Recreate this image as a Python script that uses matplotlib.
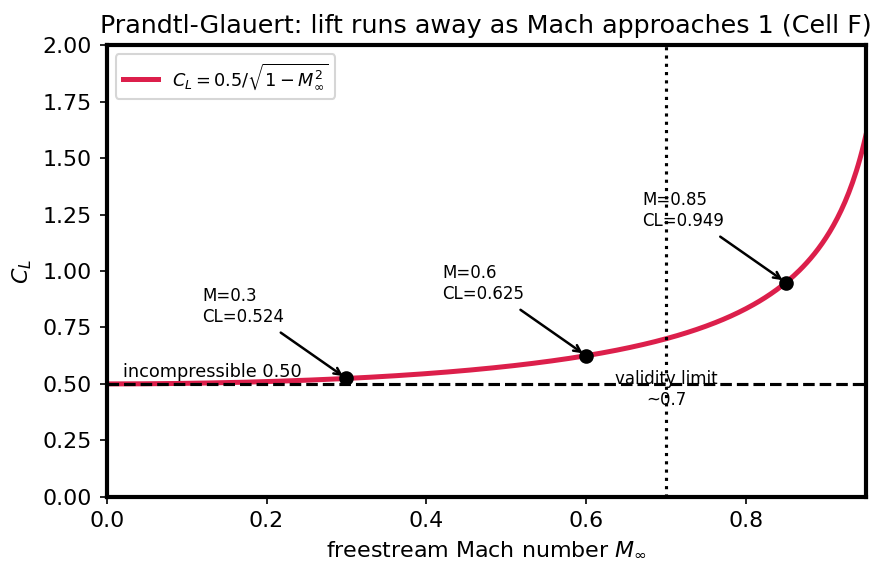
import numpy as np
import matplotlib
matplotlib.use("Agg")
import matplotlib.pyplot as plt

# Prandtl-Glauert curve: CL = CL0 / sqrt(1 - M^2), as stated in the legend
CL0 = 0.5
M_MAX = 0.95
mach = np.linspace(0.0, M_MAX, 400)
cl = CL0 / np.sqrt(1.0 - mach ** 2)

# marked points
mark_M = [0.3, 0.6, 0.85]
mark_CL = [0.524, 0.625, 0.949]

validity_M = 0.7

plt.rcParams['font.size'] = 10.6

fig, ax = plt.subplots(figsize=(889 / 150, 573 / 150), dpi=150)
fig.subplots_adjust(left=0.120, right=0.974, top=0.921, bottom=0.133)

ax.plot(mach, cl, color='#dc1f4b', lw=2.4,
        label=r'$C_L = 0.5/\sqrt{1-M_\infty^2}$')

for m, c in zip(mark_M, mark_CL):
    ax.annotate('M=%s\nCL=%.3f' % (m, c), xy=(m, c), xytext=(m - 0.18, c + 0.25),
                fontsize=8, arrowprops=dict(arrowstyle='->', color='black', lw=1.2))

ax.text(0.02, CL0 + 0.03, 'incompressible 0.50', fontsize=8.5)
ax.text(validity_M, CL0 + 0.06, 'validity limit\n~0.7', fontsize=8,
        ha='center', va='top')

ax.axhline(CL0, color='black', ls='--', lw=1.5, zorder=3)
ax.axvline(validity_M, color='black', ls=':', lw=1.5, zorder=3)
ax.plot(mark_M, mark_CL, 'o', color='black', ms=6, zorder=4)

ax.set_xlim(0, M_MAX)
ax.set_ylim(0, 2.0)
ax.set_yticks(np.arange(0, 2.01, 0.25))
ax.set_xlabel(r'freestream Mach number $M_\infty$')
ax.set_ylabel(r'$C_L$')
ax.set_title('Prandtl-Glauert: lift runs away as Mach approaches 1 (Cell F)',
             fontsize=12.2)
for s in ax.spines.values():
    s.set_linewidth(2.0)
ax.legend(loc='upper left', fontsize=8.5)

fig.savefig('out.png')
